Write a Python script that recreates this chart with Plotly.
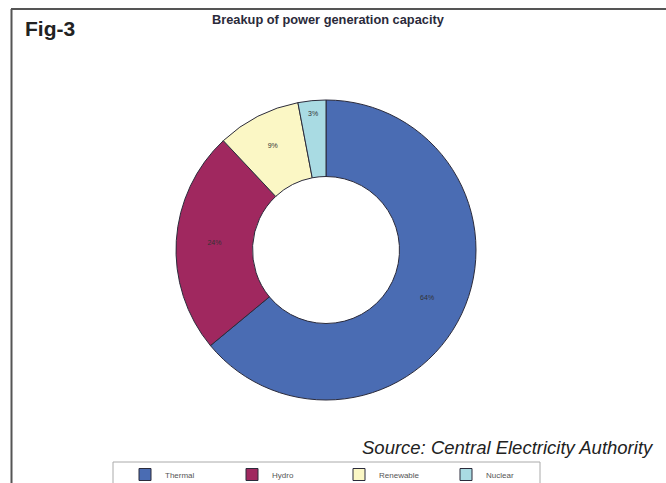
import plotly.graph_objects as go

categories = ["Thermal", "Hydro", "Renewable", "Nuclear"]
shares = [64, 24, 9, 3]
colors = ["#4a6cb3", "#a0285f", "#fbf7c5", "#a9dbe3"]

W, H = 666, 483
cx, cy, R = 326, 250, 150

fig = go.Figure(go.Pie(
    labels=categories,
    values=shares,
    sort=False,
    direction="clockwise",
    rotation=0,
    hole=0.49,
    marker=dict(colors=colors, line=dict(color="#2b2b3b", width=1)),
    texttemplate="%{value}%",
    textposition="inside",
    insidetextorientation="horizontal",
    textfont=dict(size=7, color="#333333", family="Liberation Sans, Arial"),
    domain=dict(x=[(cx - R) / W, (cx + R) / W], y=[(H - cy - R) / H, (H - cy + R) / H]),
    showlegend=True,
))

fig.update_layout(
    width=W, height=H,
    margin=dict(l=0, r=0, t=0, b=0, autoexpand=False),
    paper_bgcolor="white",
    plot_bgcolor="white",
    font=dict(family="Liberation Sans, Arial"),
    legend=dict(
        orientation="h",
        x=125 / W, xanchor="left",
        y=1 - 460 / H, yanchor="top",
        bgcolor="rgba(0,0,0,0)",
        borderwidth=0,
        font=dict(size=8, color="#555555"),
        entrywidth=62, entrywidthmode="pixels",
        traceorder="normal",
    ),
    shapes=[
        dict(type="line", xref="paper", yref="paper",
             x0=11 / W, x1=1, y0=1 - 9 / H, y1=1 - 9 / H,
             line=dict(color="#555555", width=2)),
        dict(type="line", xref="paper", yref="paper",
             x0=11.5 / W, x1=11.5 / W, y0=1 - 9 / H, y1=0,
             line=dict(color="#555555", width=2)),
        dict(type="rect", xref="paper", yref="paper",
             x0=113 / W, x1=540 / W, y0=1 - 462 / H, y1=-0.02,
             line=dict(color="#aaaaaa", width=1), layer="below"),
    ],
    annotations=[
        dict(text="<b>Fig-3</b>", x=23 / W, y=1 - 29 / H, xref="paper", yref="paper",
             xanchor="left", yanchor="middle", showarrow=False,
             font=dict(size=21, color="#222222", family="Liberation Sans, Arial")),
        dict(text="<b>Breakup of power generation capacity</b>", x=328 / W, y=1 - 19 / H,
             xref="paper", yref="paper", xanchor="center", yanchor="middle", showarrow=False,
             font=dict(size=12.8, color="#2a2a3a", family="Liberation Sans, Arial")),
        dict(text="<i>Source: Central Electricity Authority</i>", x=656 / W, y=1 - 447 / H,
             xref="paper", yref="paper", xanchor="right", yanchor="middle", showarrow=False,
             font=dict(size=18.5, color="#222222", family="Liberation Sans, Arial")),
    ],
)

fig.write_html("out.html")
